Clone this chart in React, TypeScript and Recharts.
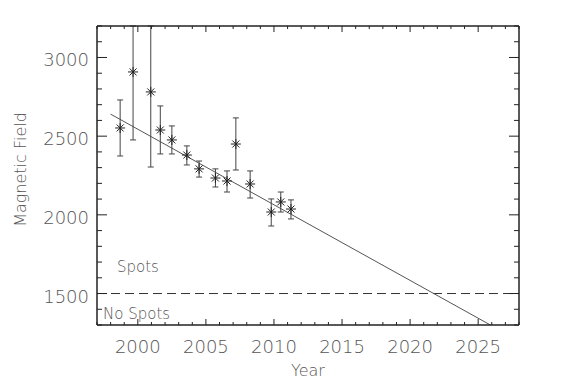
import React from "react";
import {
  ComposedChart,
  Scatter,
  Line,
  XAxis,
  YAxis,
  ErrorBar,
  ReferenceLine,
} from "recharts";

const years = [1998.7, 1999.65, 2000.95, 2001.65, 2002.5, 2003.6, 2004.5, 2005.7, 2006.55, 2007.2, 2008.25, 2009.8, 2010.5, 2011.25];
const fieldValues = [2552, 2908, 2781, 2539, 2476, 2380, 2292, 2234, 2215, 2450, 2196, 2018, 2082, 2037];
const errLower = [2374, 2476, 2304, 2387, 2387, 2317, 2240, 2177, 2145, 2285, 2107, 1929, 2018, 1974];
const errUpper = [2730, 3200, 3200, 2692, 2565, 2438, 2342, 2292, 2279, 2616, 2279, 2101, 2145, 2095];

// linear fit endpoints
const fitYears = [1998.0, 2025.9];
const fitValues = [2640, 1300];

const spotLimit = 1500;

const xTicks = Array.from({ length: 32 }, (_, i) => 1997 + i);
const yTicks = Array.from({ length: 20 }, (_, i) => 1300 + i * 100);

const points = years.map((year, i) => ({
  year,
  value: fieldValues[i],
  err: [fieldValues[i] - errLower[i], errUpper[i] - fieldValues[i]],
}));
const fitLine = fitYears.map((year, i) => ({ year, value: fitValues[i] }));

const TEXT = "#555";
const INK = "#222";
const FONT = "'DejaVu Sans', sans-serif";

function Asterisk({ cx, cy }: { cx?: number; cy?: number }) {
  if (cx == null || cy == null) return null;
  const r = 5;
  const d = 3.5;
  return (
    <g stroke={INK} strokeWidth={1}>
      <line x1={cx - r} y1={cy} x2={cx + r} y2={cy} />
      <line x1={cx} y1={cy - r} x2={cx} y2={cy + r} />
      <line x1={cx - d} y1={cy - d} x2={cx + d} y2={cy + d} />
      <line x1={cx - d} y1={cy + d} x2={cx + d} y2={cy - d} />
    </g>
  );
}

function BottomTick({ x, y, payload }: any) {
  const major = payload.value % 5 === 0;
  return (
    <g>
      <line x1={x} y1={y} x2={x} y2={y - (major ? 6 : 3)} stroke={INK} />
      {major && (
        <text x={x} y={y + 28} textAnchor="middle" fill={TEXT} fontSize={18} fontFamily={FONT} fontWeight={200}>
          {payload.value}
        </text>
      )}
    </g>
  );
}

function TopTick({ x, y, payload }: any) {
  const major = payload.value % 5 === 0;
  return <line x1={x} y1={y} x2={x} y2={y + (major ? 6 : 3)} stroke={INK} />;
}

function LeftTick({ x, y, payload }: any) {
  const major = payload.value % 500 === 0;
  return (
    <g>
      <line x1={x} y1={y} x2={x + (major ? 10 : 5)} y2={y} stroke={INK} />
      {major && (
        <text x={x - 8} y={y + 9} textAnchor="end" fill={TEXT} fontSize={18} fontFamily={FONT} fontWeight={200}>
          {payload.value}
        </text>
      )}
    </g>
  );
}

function RightTick({ x, y, payload }: any) {
  const major = payload.value % 500 === 0;
  return <line x1={x} y1={y} x2={x - (major ? 10 : 5)} y2={y} stroke={INK} />;
}

function SpotLabels({ viewBox }: any) {
  const { x, y } = viewBox;
  const style = { fill: TEXT, fontSize: 15, fontFamily: FONT, fontWeight: 200 };
  return (
    <g>
      <text x={x + 20} y={y - 22} {...style}>Spots</text>
      <text x={x + 6} y={y + 25} {...style}>No Spots</text>
    </g>
  );
}

function FieldLabel({ viewBox }: any) {
  const cx = viewBox.x + 20;
  const cy = viewBox.y + viewBox.height / 2 - 6;
  return (
    <text
      x={cx}
      y={cy}
      transform={`rotate(-90, ${cx}, ${cy})`}
      textAnchor="middle"
      dominantBaseline="central"
      fill={TEXT}
      fontSize={16}
      fontFamily={FONT}
      fontWeight={200}
    >
      Magnetic Field
    </text>
  );
}

export default function App() {
  return (
    <div style={{ position: "absolute", left: 0, top: 0, background: "#fff" }}>
      <ComposedChart
        width={580}
        height={392}
        margin={{ top: 25, right: 60, bottom: 0, left: 0 }}
        style={{ fontFamily: FONT }}
      >
        <XAxis
          xAxisId="bottom"
          dataKey="year"
          type="number"
          domain={[1997, 2028]}
          allowDataOverflow
          ticks={xTicks}
          interval={0}
          height={67}
          tickSize={0}
          tickMargin={0}
          tick={<BottomTick />}
          tickLine={false}
          axisLine={{ stroke: INK, strokeWidth: 1.5 }}
          label={{ value: "Year", position: "insideBottom", offset: 16, fill: TEXT, fontSize: 16, fontWeight: 200 }}
        />
        <XAxis
          xAxisId="top"
          orientation="top"
          dataKey="year"
          type="number"
          domain={[1997, 2028]}
          allowDataOverflow
          ticks={xTicks}
          interval={0}
          height={1}
          tickSize={0}
          tickMargin={0}
          tick={<TopTick />}
          tickLine={false}
          axisLine={{ stroke: INK, strokeWidth: 1.5 }}
        />
        <YAxis
          yAxisId="left"
          type="number"
          domain={[1300, 3200]}
          allowDataOverflow
          ticks={yTicks}
          interval={0}
          width={97}
          tickSize={0}
          tickMargin={0}
          tick={<LeftTick />}
          tickLine={false}
          axisLine={{ stroke: INK, strokeWidth: 1.5 }}
          label={FieldLabel}
        />
        <YAxis
          yAxisId="right"
          orientation="right"
          type="number"
          domain={[1300, 3200]}
          allowDataOverflow
          ticks={yTicks}
          interval={0}
          width={1}
          tickSize={0}
          tickMargin={0}
          tick={<RightTick />}
          tickLine={false}
          axisLine={{ stroke: INK, strokeWidth: 1.5 }}
        />
        <ReferenceLine
          xAxisId="bottom"
          yAxisId="left"
          y={spotLimit}
          stroke="#333"
          strokeDasharray="9 5"
          label={SpotLabels}
        />
        <Line
          xAxisId="bottom"
          yAxisId="left"
          data={fitLine}
          dataKey="value"
          stroke="#555"
          strokeWidth={1}
          dot={false}
          isAnimationActive={false}
        />
        <Scatter
          xAxisId="bottom"
          yAxisId="left"
          data={points}
          dataKey="value"
          shape={<Asterisk />}
          isAnimationActive={false}
        >
          <ErrorBar dataKey="err" direction="y" width={3} stroke="#444" strokeWidth={1} />
        </Scatter>
        <Scatter xAxisId="top" yAxisId="right" data={[]} dataKey="value" isAnimationActive={false} />
      </ComposedChart>
    </div>
  );
}
